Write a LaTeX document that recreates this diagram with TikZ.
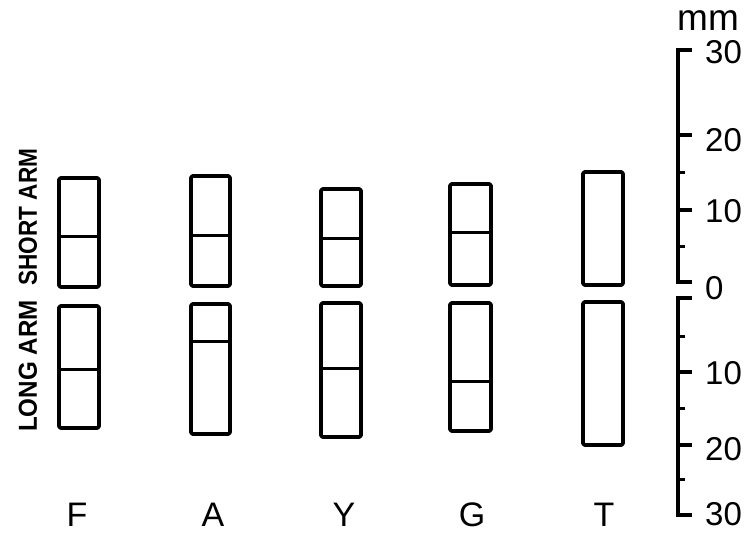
\documentclass[tikz,border=0pt]{standalone}
\usepackage{fontspec}
\setmainfont{Liberation Sans}
\usepackage{graphicx}
\begin{document}
\begin{tikzpicture}[x=1pt,y=-1pt,
  chrom/.style={draw=black,line width=3.6pt,rounded corners=1.5pt,line join=round},
  band/.style={draw=black,line width=3pt},
  axisline/.style={draw=black,line width=3.6pt,line join=miter},
  majtick/.style={draw=black,line width=3.4pt},
  mintick/.style={draw=black,line width=3pt},
  lab/.style={font=\fontsize{34}{34}\selectfont,inner sep=0pt,anchor=base},
  numlab/.style={font=\fontsize{33}{33}\selectfont,inner sep=0pt,anchor=west},
  armlab/.style={font=\bfseries\fontsize{26}{26}\selectfont,inner sep=0pt,rotate=90}
]
\useasboundingbox (0,0) rectangle (753,534);
\fill[white] (0,0) rectangle (753,534);

% --- F ---
\draw[chrom] (59,178) rectangle (99,287);
\draw[band] (59,237) -- (99,237);
\draw[chrom] (59,306) rectangle (99,428);
\draw[band] (59,370) -- (99,370);
% --- A ---
\draw[chrom] (191,176) rectangle (230,286);
\draw[band] (191,236) -- (230,236);
\draw[chrom] (191,304) rectangle (230,434);
\draw[band] (191,342) -- (230,342);
% --- Y ---
\draw[chrom] (321,189) rectangle (361,286);
\draw[band] (321,239) -- (361,239);
\draw[chrom] (321,303) rectangle (361,437);
\draw[band] (321,369) -- (361,369);
% --- G ---
\draw[chrom] (450,184) rectangle (491,285);
\draw[band] (450,233) -- (491,233);
\draw[chrom] (450,303) rectangle (491,431);
\draw[band] (450,382) -- (491,382);
% --- T ---
\draw[chrom] (583,172) rectangle (623,285);
\draw[chrom] (583,302) rectangle (623,445);

% --- arm labels ---
\node[armlab] (short) at (28,217) {\scalebox{0.87}[1]{SHORT ARM}};
\node[armlab] (long) at (28,366) {\scalebox{0.93}[1]{LONG ARM}};

% --- species labels ---
\node[lab] (F) at (77,527) {F};
\node[lab] (A) at (213,527) {A};
\node[lab] (Y) at (344,527) {Y};
\node[lab] (G) at (472,527) {G};
\node[lab] (T) at (604,527) {T};

% --- scale ---
\draw[axisline] (692,50) -- (678,50) -- (678,282) -- (692,282);
\draw[majtick] (678,135) -- (692,135);
\draw[majtick] (678,210) -- (692,210);
\draw[mintick] (678,173) -- (685,173);
\draw[mintick] (678,247) -- (685,247);

\draw[axisline] (692,298) -- (678,298) -- (678,515) -- (692,515);
\draw[mintick] (678,337) -- (685,337);
\draw[majtick] (678,372) -- (692,372);
\draw[mintick] (678,409) -- (685,409);
\draw[majtick] (678,445) -- (692,445);
\draw[mintick] (678,480) -- (685,480);

\node[font=\fontsize{37}{37}\selectfont,inner sep=0pt,anchor=base west] (mm) at (677,31) {mm};
\node[numlab] (u30) at (705,52) {30};
\node[numlab] (u20) at (705,140) {20};
\node[numlab] (u10) at (705,211) {10};
\node[numlab] (u0) at (705,288) {0};
\node[numlab] (l10) at (705,373) {10};
\node[numlab] (l20) at (705,449) {20};
\node[numlab] (l30) at (705,514) {30};
\end{tikzpicture}
\end{document}
